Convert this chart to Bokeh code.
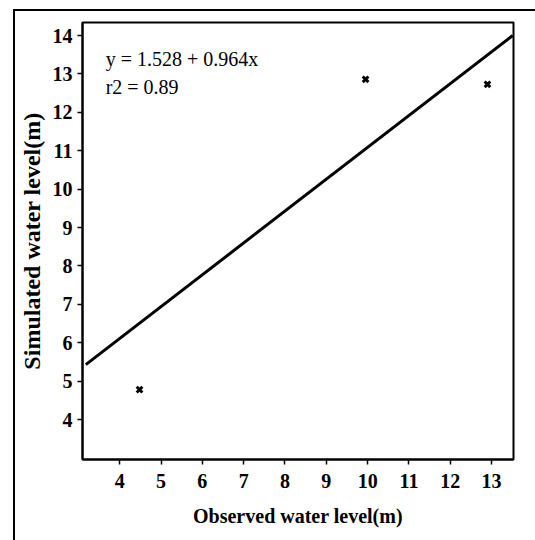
from bokeh.plotting import figure
from bokeh.models import Range1d, FixedTicker, Label, InlineStyleSheet
from bokeh.embed import file_html
from bokeh.resources import INLINE

# data
obs = [4.48, 9.95, 12.9]
sim = [4.78, 12.86, 12.73]
fit_x = [3.18, 13.51]
fit_y = [5.43, 14.0]
x_ticks = [4, 5, 6, 7, 8, 9, 10, 11, 12, 13]
y_ticks = [4, 5, 6, 7, 8, 9, 10, 11, 12, 13, 14]
eq_lines = ["y = 1.528 + 0.964x", "r2 = 0.89"]

FONT = "'Liberation Serif', 'Times New Roman', 'DejaVu Serif', serif"

p = figure(width=535, height=540, output_backend="svg", toolbar_location=None,
           x_range=Range1d(3.10, 13.53), y_range=Range1d(2.96, 14.34),
           min_border_left=82, min_border_right=22, min_border_top=22, min_border_bottom=81)
p.background_fill_color = "white"
p.border_fill_color = "white"
p.outline_line_color = "black"
p.outline_line_width = 2
p.xgrid.visible = False
p.ygrid.visible = False

for ax in (p.xaxis[0], p.yaxis[0]):
    ax.axis_line_color = "black"
    ax.axis_line_width = 2
    ax.major_tick_line_color = "black"
    ax.major_tick_line_width = 1.5
    ax.major_tick_out = 5
    ax.major_tick_in = 0
    ax.minor_tick_line_color = None
    ax.major_label_text_font = FONT
    ax.major_label_text_font_style = "bold"
    ax.major_label_text_font_size = "20px"
    ax.major_label_text_color = "black"
    ax.axis_label_text_font = FONT
    ax.axis_label_text_font_style = "bold"
    ax.axis_label_text_color = "black"

p.xaxis[0].ticker = FixedTicker(ticks=x_ticks)
p.yaxis[0].ticker = FixedTicker(ticks=y_ticks)
p.xaxis[0].axis_label = "Observed water level(m)"
p.yaxis[0].axis_label = "Simulated water level(m)"
p.xaxis[0].axis_label_text_font_size = "20px"
p.yaxis[0].axis_label_text_font_size = "24px"
p.xaxis[0].major_label_standoff = 9
p.yaxis[0].major_label_standoff = 5
p.xaxis[0].axis_label_standoff = 14
p.yaxis[0].axis_label_standoff = 5

p.line(fit_x, fit_y, line_color="black", line_width=3)
p.scatter(obs, sim, marker="x", size=8, line_color="black", line_width=3)

ys = [13.38, 12.65]
for t, yy in zip(eq_lines, ys):
    p.add_layout(Label(x=3.66, y=yy, text=t, text_font=FONT, text_font_size="20px",
                       text_color="black", text_baseline="alphabetic"))

p.stylesheets = [InlineStyleSheet(css="""
:host { position: relative; }
:host::after { content: ""; position: absolute; left: 13px; top: 9px;
  width: 600px; height: 600px; border-left: 2px solid black; border-top: 2px solid black;
  pointer-events: none; box-sizing: border-box; }
""")]

open("out.html", "w").write(file_html(p, INLINE))
